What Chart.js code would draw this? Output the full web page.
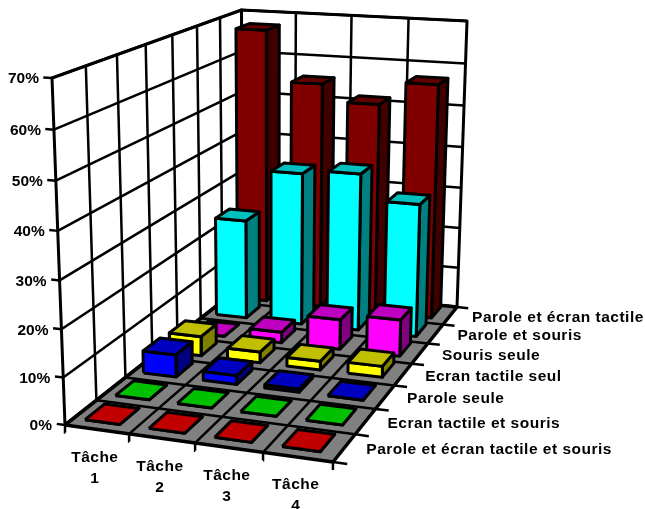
<!DOCTYPE html>
<html>
<head>
<meta charset="utf-8">
<script src="https://cdn.jsdelivr.net/npm/chart.js@4"></script>
<style>body{margin:0;background:#fff}</style>
</head>
<body>
<canvas id="c" width="645" height="509"></canvas>
<script>
const taches = ['Tâche 1', 'Tâche 2', 'Tâche 3', 'Tâche 4'];
const seriesNames = ['Parole et écran tactile et souris', 'Ecran tactile et souris', 'Parole seule',
  'Ecran tactile seul', 'Souris seule', 'Parole et souris', 'Parole et écran tactile'];
const tickValues = [0, 10, 20, 30, 40, 50, 60, 70];

const paroleEcranSouris = [0, 0, 0, 0];
const ecranSouris = [0, 0, 0, 0];
const paroleSeule = [5, 2, 0.7, 0];
const ecranSeul = [4.5, 2.5, 2, 2.5];
const sourisSeule = [0, 2.5, 7, 8.5];
const paroleSouris = [24, 36.5, 37.5, 31.5];
const paroleEcran = [67, 55, 51, 56.5];
const values = [paroleEcranSouris, ecranSouris, paroleSeule, ecranSeul, sourisSeule, paroleSouris, paroleEcran];

// front, top, side
const colors = [
  ['#ff0000', '#c00000', '#800000'],
  ['#00ff00', '#00c000', '#008000'],
  ['#0000ff', '#0000c0', '#000080'],
  ['#ffff00', '#c0c000', '#808000'],
  ['#ff00ff', '#c000c0', '#800080'],
  ['#00ffff', '#00c0c0', '#008080'],
  ['#800000', '#600000', '#400000']
];

// view of the 3d box in the picture plane: front-left, front-right, back-right, back-left
const floorQuad = [[65, 425], [333, 462], [457, 307], [243, 285]];
const ceilQuad = [[52, 78], [338, 97], [467, 21], [241.5, 10]];
const yMax = 70;
const zPersp = 1.05;
const barLeft = 0.18, barW = 0.55, barFront = 0.27, barD = 0.64;

function homography(q){
  const [[x0,y0],[x1,y1],[x2,y2],[x3,y3]] = q;
  const dx1 = x1-x2, dx2 = x3-x2, dx3 = x0-x1+x2-x3;
  const dy1 = y1-y2, dy2 = y3-y2, dy3 = y0-y1+y2-y3;
  const den = dx1*dy2 - dx2*dy1;
  const g = (dx3*dy2 - dx2*dy3)/den, h = (dx1*dy3 - dx3*dy1)/den;
  const a = x1-x0+g*x1, b = x3-x0+h*x3, d = y1-y0+g*y1, e = y3-y0+h*y3;
  return (u,v) => {
    const w = g*u + h*v + 1;
    return [(a*u + b*v + x0)/w, (d*u + e*v + y0)/w];
  };
}
const hFloor = homography(floorQuad), hCeil = homography(ceilQuad);

// task position, row position, value -> picture plane
function P(t, r, val){
  const u = t/taches.length, v = r/seriesNames.length, z = val/yMax;
  const w = z/(z + (1-z)*zPersp);
  const a = hFloor(u,v), b = hCeil(u,v);
  return {x: a[0] + (b[0]-a[0])*w, y: a[1] + (b[1]-a[1])*w};
}

function poly(pts, fill, width){
  return {
    data: pts.concat([pts[0]]),
    showLine: true,
    fill: 'shape',
    backgroundColor: fill,
    borderColor: '#000',
    borderWidth: width,
    borderJoinStyle: 'round',
    pointRadius: 0,
    tension: 0
  };
}
function line(a, b, width){
  return {
    data: [a, b],
    showLine: true,
    fill: false,
    borderColor: '#000',
    borderWidth: width,
    pointRadius: 0
  };
}

const datasets = [];
const nT = taches.length, nR = seriesNames.length;

// walls
datasets.push(poly([P(0,0,0), P(0,nR,0), P(0,nR,yMax), P(0,0,yMax)], '#fff', 3));
datasets.push(poly([P(0,nR,0), P(nT,nR,0), P(nT,nR,yMax), P(0,nR,yMax)], '#fff', 3));
tickValues.forEach(v => {
  datasets.push(line(P(0,0,v), P(0,nR,v), 2.5));
  datasets.push(line(P(0,nR,v), P(nT,nR,v), 2.5));
});
for (let r = 1; r < nR; r++) datasets.push(line(P(0,r,0), P(0,r,yMax), 2.5));
for (let t = 1; t < nT; t++) datasets.push(line(P(t,nR,0), P(t,nR,yMax), 2.5));

// floor
datasets.push(poly([P(0,0,0), P(nT,0,0), P(nT,nR,0), P(0,nR,0)], '#808080', 3.5));
for (let r = 1; r < nR; r++) datasets.push(line(P(0,r,0), P(nT,r,0), 2.5));
for (let t = 1; t < nT; t++) datasets.push(line(P(t,0,0), P(t,nR,0), 2.5));

// tick marks
tickValues.forEach(v => datasets.push(line(P(-0.13,0,v), P(0,0,v), 2.5)));
for (let t = 0; t <= nT; t++) datasets.push(line(P(t,0,-1.6), P(t,0,0), 2.5));
for (let r = 0; r <= nR; r++) datasets.push(line(P(nT,r,0), P(nT+0.2,r,0), 2.5));

// bars, back row first
for (let r = nR-1; r >= 0; r--) {
  for (let t = 0; t < nT; t++) {
    const v = values[r][t];
    const x0 = t + barLeft, x1 = x0 + barW;
    const y0 = r + barFront, y1 = y0 + barD;
    const c = colors[r];
    datasets.push(poly([P(x1,y0,0), P(x1,y1,0), P(x1,y1,v), P(x1,y0,v)], c[2], 3));
    datasets.push(poly([P(x0,y0,0), P(x1,y0,0), P(x1,y0,v), P(x0,y0,v)], c[0], 3));
    datasets.push(poly([P(x0,y0,v), P(x1,y0,v), P(x1,y1,v), P(x0,y1,v)], c[1], 3));
  }
}

const labelsPlugin = {
  id: 'labels3d',
  afterDraw(chart){
    const ctx = chart.ctx, sx = chart.scales.x, sy = chart.scales.y;
    const put = (txt, p, dx, dy, align) => {
      ctx.textAlign = align;
      ctx.fillText(txt, sx.getPixelForValue(p.x)+dx, sy.getPixelForValue(p.y)+dy);
    };
    ctx.save();
    ctx.fillStyle = '#000';
    ctx.font = 'bold 15.5px "Liberation Sans"';
    ctx.textBaseline = 'middle';
    tickValues.forEach(v => put(v+'%', P(0,0,v), -13, 1, 'right'));
    ctx.letterSpacing = '0.5px';
    taches.forEach((name,t) => {
      const parts = name.split(' ');
      put(parts[0], P(t+0.5,0,0), -2, 28, 'center');
      put(parts[1], P(t+0.5,0,0), -2, 49, 'center');
    });
    seriesNames.forEach((name,r) => put(name, P(nT,r+0.5,0), 22, 2, 'left'));
    ctx.restore();
  }
};

new Chart(document.getElementById('c'), {
  type: 'scatter',
  data: {datasets: datasets.reverse()},
  options: {
    responsive: false,
    animation: false,
    layout: {padding: 0},
    plugins: {legend: {display: false}, tooltip: {enabled: false}},
    scales: {
      x: {type: 'linear', min: 0, max: 645, display: false},
      y: {type: 'linear', min: 0, max: 509, reverse: true, display: false}
    }
  },
  plugins: [labelsPlugin]
});
</script>
</body>
</html>
